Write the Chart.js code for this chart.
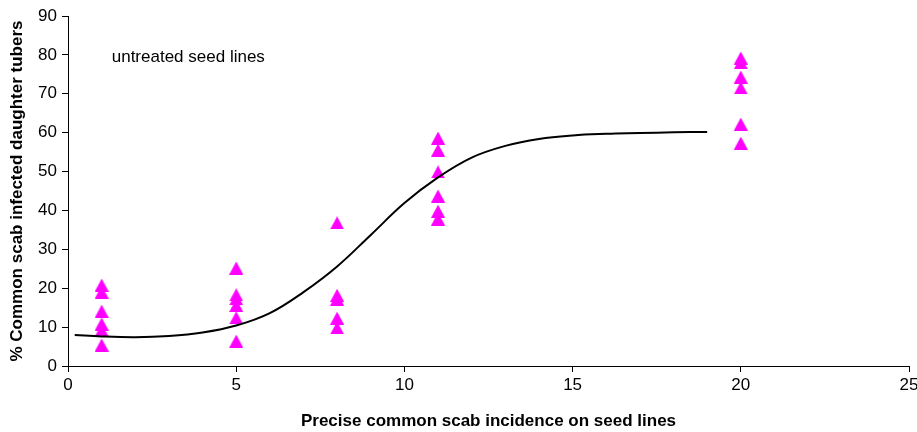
<!DOCTYPE html>
<html>
<head>
<meta charset="utf-8">
<script src="https://cdn.jsdelivr.net/npm/chart.js@4/dist/chart.umd.min.js"></script>
<style>
  html, body { margin: 0; padding: 0; background: #fff; }
  #wrap { width: 917px; height: 432px; position: relative; }
</style>
</head>
<body>
<div id="wrap"><canvas id="chart"></canvas></div>
<script>
// Seed-line incidence groups and the observed infection (%) of daughter tubers
const seedIncidence = [1, 5, 8, 11, 20];
const infectedAt1  = [20.8, 19.0, 14.1, 10.8, 9.2, 5.4];
const infectedAt5  = [25.2, 18.3, 17.3, 15.6, 12.4, 6.4];
const infectedAt8  = [36.8, 18.2, 17.2, 12.3, 9.8];
const infectedAt11 = [58.6, 55.5, 49.9, 43.7, 39.8, 37.8];
const infectedAt20 = [79.2, 78.0, 74.3, 71.5, 62.2, 57.3];

// Fitted response curve
const curveX = [0.2, 1, 2, 3, 4, 5, 6, 7, 8, 9, 10, 11, 12, 13, 14, 15, 16, 17, 18, 19];
const curveY = [8.0, 7.6, 7.4, 7.7, 8.6, 10.4, 13.6, 19.0, 25.6, 33.7, 41.9, 48.5, 53.6, 56.6, 58.4, 59.3, 59.7, 59.9, 60.1, 60.2];

// Axis ticks
const xTickValues = [0, 5, 10, 15, 20, 25];
const yTickValues = [0, 10, 20, 30, 40, 50, 60, 70, 80, 90];

const xTitle = 'Precise common scab incidence on seed lines';
const yTitle = '% Common scab infected daughter tubers';
const noteText = 'untreated seed lines';

const groups = [infectedAt1, infectedAt5, infectedAt8, infectedAt11, infectedAt20];
const observed = [];
groups.forEach((vals, i) => vals.forEach(v => observed.push({ x: seedIncidence[i], y: v })));
const curve = curveX.map((x, i) => ({ x: x, y: curveY[i] }));

// Triangle marker centred on its bounding box
function makeTriangle(w, h, color) {
  const c = document.createElement('canvas');
  c.width = w; c.height = h;
  const g = c.getContext('2d');
  g.fillStyle = color;
  g.beginPath();
  g.moveTo(w / 2, 0);
  g.lineTo(w, h);
  g.lineTo(0, h);
  g.closePath();
  g.fill();
  return c;
}
const triangle = makeTriangle(14, 13, '#FF00FF');

const FONT = 'Liberation Sans, Arial, sans-serif';

const notePlugin = {
  id: 'note',
  afterDatasetsDraw(chart) {
    const ctx = chart.ctx;
    const xs = chart.scales.x, ys = chart.scales.y;
    ctx.save();
    ctx.font = '17px ' + FONT;
    ctx.fillStyle = '#000';
    ctx.textAlign = 'left';
    ctx.textBaseline = 'middle';
    ctx.fillText(noteText, xs.getPixelForValue(1.3), ys.getPixelForValue(79.5));
    ctx.restore();
  }
};

new Chart(document.getElementById('chart'), {
  type: 'scatter',
  data: {
    datasets: [
      {
        label: 'fit',
        data: curve,
        showLine: true,
        borderColor: '#000',
        borderWidth: 2,
        pointRadius: 0,
        tension: 0.4,
        order: 0
      },
      {
        label: 'observed',
        data: observed,
        pointStyle: triangle,
        pointRadius: 7,
        showLine: false,
        order: 1
      }
    ]
  },
  options: {
    responsive: true,
    maintainAspectRatio: false,
    animation: false,
    layout: { padding: { top: 16, right: 8, bottom: 0, left: 0 } },
    plugins: { legend: { display: false }, tooltip: { enabled: false } },
    scales: {
      x: {
        type: 'linear',
        min: 0, max: 25,
        afterBuildTicks(s) { s.ticks = xTickValues.map(v => ({ value: v })); },
        afterFit(s) { s.height = 66; s.paddingRight = 8; },
        ticks: { color: '#000', font: { family: FONT, size: 17 }, padding: 3 },
        grid: { drawOnChartArea: false, drawTicks: true, tickLength: 6, color: '#000' },
        border: { color: '#000', width: 1 },
        title: { display: true, text: xTitle, color: '#000', font: { family: FONT, size: 17, weight: 'bold' }, padding: { top: 1, bottom: 0 } }
      },
      y: {
        type: 'linear',
        min: 0, max: 90,
        afterBuildTicks(s) { s.ticks = yTickValues.map(v => ({ value: v })); },
        afterFit(s) { s.width = 68; },
        ticks: { color: '#000', font: { family: FONT, size: 17 }, padding: 5 },
        grid: { drawOnChartArea: false, drawTicks: true, tickLength: 6, color: '#000' },
        border: { color: '#000', width: 1 },
        title: { display: true, text: yTitle, color: '#000', font: { family: FONT, size: 17, weight: 'bold' }, padding: { top: 7, bottom: 0 } }
      }
    }
  },
  plugins: [notePlugin]
});
</script>
</body>
</html>
